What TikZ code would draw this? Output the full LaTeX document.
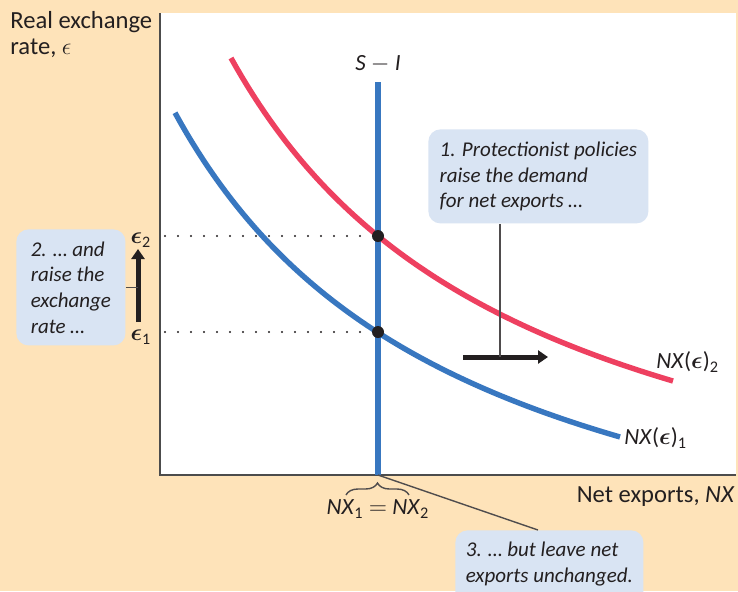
\documentclass[tikz,border=0pt]{standalone}
\usepackage{amsmath,amssymb}
\usepackage{fontspec}
\setmainfont{Carlito}
\usepackage{tikz}
\usetikzlibrary{arrows.meta,positioning,calc,decorations.pathreplacing}

\definecolor{peach}{HTML}{FEE3B9}
\definecolor{boxblue}{HTML}{D9E4F3}
\definecolor{curveblue}{HTML}{3877C0}
\definecolor{curvered}{HTML}{EE4060}
\definecolor{inkgray}{HTML}{231F20}

\newcommand{\nxeps}[1]{\textit{NX}($\boldsymbol{\epsilon}$)$_{\text{#1}}$}

\begin{document}
\begin{tikzpicture}[x=0.5pt,y=-0.5pt,
  every node/.style={text=inkgray},
  axis/.style={draw=black!70,line width=1pt},
  nxline/.style={line width=2.7pt},
  guide/.style={draw=inkgray,line width=1.2pt,line cap=round,dash pattern=on 0pt off 6.5pt},
  leader/.style={draw=inkgray!80,line width=0.7pt},
  shift arrow/.style={draw=inkgray,line width=2.5pt,-{Triangle[length=5pt,width=6.5pt]}},
  callout/.style={fill=boxblue,rounded corners=6pt,inner xsep=4.5pt,inner ysep=4pt,anchor=north west,
    align=left,font=\itshape\fontsize{10.5}{12.8}\selectfont},
  axislabel/.style={font=\fontsize{12.3}{13}\selectfont,inner sep=0pt,align=left},
  plotlabel/.style={font=\fontsize{11.6}{13}\selectfont}]
  \useasboundingbox (0,0) rectangle (738,591);
  \fill[peach] (0,0) rectangle (738,591); % background
  \fill[white] (160,13) rectangle (736,475); % plot area
  \draw[axis] (160,13) -- (160,475) -- (736,475);
  % axis labels
  \node[axislabel,anchor=north west] (ylab) at (10,11) {Real exchange\\rate, $\epsilon$};
  \node[axislabel,anchor=east] (xlab) at (735,497) {Net exports, \textit{NX}};
  % the two NX curves
  \draw[nxline,curveblue,domain=175:620,samples=80,variable=\x]
    plot ({\x},{651.8-1589.55/((\x+119.9)/100)}); % NX(e)_1
  \draw[nxline,curvered,domain=231:673,samples=80,variable=\x]
    plot ({\x},{601.7-1641.95/((\x+71)/100)}); % NX(e)_2
  \node[plotlabel,anchor=west,inner sep=1pt] (nxone) at (622,438) {\nxeps{1}};
  \node[plotlabel,anchor=west,inner sep=1pt] (nxtwo) at (654,362) {\nxeps{2}};
  % S - I
  \coordinate (sitop) at (378,82);
  \coordinate (sibot) at (378,475);
  \draw[nxline,curveblue] (sitop) -- (sibot);
  \node[plotlabel] (silab) at (378,64) {\textit{S} $-$ \textit{I}};
  % equilibria
  \coordinate (eqtwo) at (378,236);
  \coordinate (eqone) at (378,332);
  \draw[guide] (165,236) -- (eqtwo);
  \draw[guide] (165,332) -- (eqone);
  \fill[inkgray] (eqtwo) circle (3pt);
  \fill[inkgray] (eqone) circle (3pt);
  % exchange rate labels and arrow
  \node[inner sep=0pt,font=\large] (epstwo) at (141,240) {$\boldsymbol{\epsilon}_{\text{2}}$};
  \node[inner sep=0pt,font=\large] (epsone) at (141,337) {$\boldsymbol{\epsilon}_{\text{1}}$};
  \draw[shift arrow] (138,322) -- (138,249);
  % shift of NX
  \coordinate (shiftmid) at (500,357);
  \draw[shift arrow] (463,357) -- (548,357);
  % callouts
  \node[callout,minimum width=110pt,minimum height=47pt] (boxone) at (428,129)
    {1. Protectionist policies\\raise the demand\\for net exports \dots};
  \node[callout,minimum width=54.5pt,minimum height=58pt] (boxtwo) at (16,229)
    {2. \dots\ and\\raise the\\exchange\\rate \dots};
  \node[callout,minimum width=94pt,text depth=30pt,inner ysep=6pt] (boxthree) at (455,530)
    {3. \dots\ but leave net\\exports unchanged.};
  \draw[leader] (boxone.south -| shiftmid) -- (shiftmid);
  \draw[leader] (boxtwo.east) -- (boxtwo.east -| 138,0);
  % NX unchanged
  \draw[leader,decorate,decoration={brace,amplitude=6pt}] (346,495) -- (409,495);
  \node[plotlabel] (nxeq) at (378,509) {\textit{NX}$_{\text{1}}$ $=$ \textit{NX}$_{\text{2}}$};
  \coordinate (calltip) at (538,530);
  \draw[leader] (sibot) -- (calltip);
\end{tikzpicture}
\end{document}
